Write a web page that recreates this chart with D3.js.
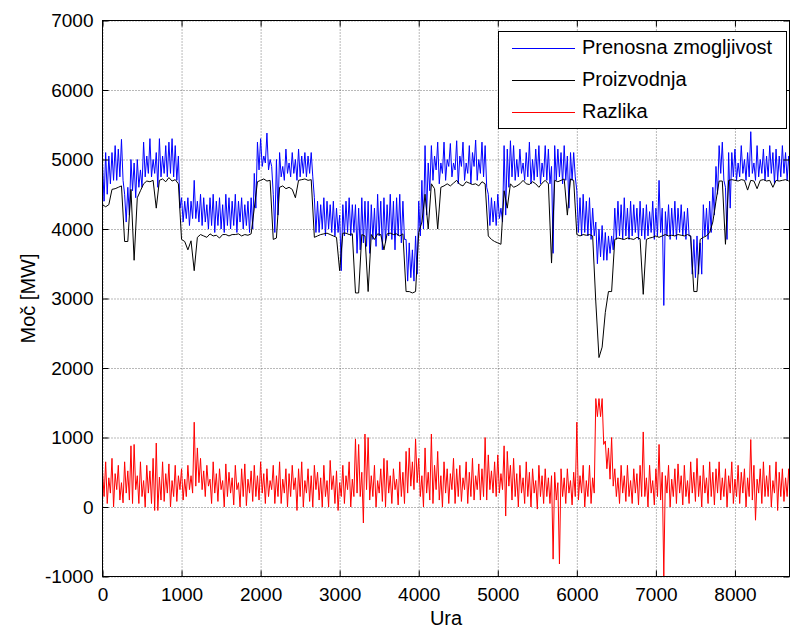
<!DOCTYPE html>
<html>
<head>
<meta charset="utf-8">
<script src="https://cdn.jsdelivr.net/npm/d3@7"></script>
<style>
  body { margin: 0; background: #fff; }
  svg { display: block; font-family: "Liberation Sans", Arial, sans-serif; }
  .axis path { display: none; }
  .axis line { stroke: #000; }
  .axis text { font-size: 19px; fill: #000; }
  .grid line { stroke: #000; stroke-opacity: 0.55; stroke-dasharray: 1,2; }
  .grid path { display: none; }
</style>
</head>
<body>
<svg id="chart" width="791" height="630"></svg>
<script>
// samples in 40 h bins.
// the hourly lines are so dense that each bin is kept as its high and low value
var hours = d3.range(0, 8681, 40);

var prenosnaHi = [
  4950,5100,5050,5100,5200,5150,5290,4500,4600,5000,
  4950,5000,4850,5250,5050,5300,5000,5100,5300,5050,
  5200,5250,5300,5200,5050,4450,4400,4450,4400,4700,
  4400,4500,4450,4350,4450,4500,4400,4450,4350,4500,
  4450,4400,4500,4400,4450,4350,4400,4450,4800,5250,
  5300,5050,5380,5000,4500,5000,5100,4900,5150,4950,
  5100,5000,5150,5050,5100,5050,5100,4450,4400,4350,
  4450,4400,4350,4400,4300,4200,4350,4400,4450,4350,
  4350,4300,4450,4400,4400,4350,4300,4500,4400,4450,
  4350,4500,4400,4450,4500,4400,3850,3800,3700,3900,
  4400,4700,5200,4950,5200,5050,5250,4950,5250,5000,
  5230,4950,5270,5050,5250,4950,5200,5100,5280,5000,
  5250,5200,4500,4450,4400,4500,4300,5200,5150,5270,
  5200,5000,5150,4950,5100,5250,5000,5150,5200,4950,
  5200,5150,4900,5200,5150,5100,5200,5050,5100,5100,
  4550,4450,4500,4400,4450,4300,4100,4000,4050,3950,
  3900,3900,4300,4400,4350,4450,4300,4400,4350,4300,
  4400,4300,4350,4250,4400,4300,4700,4300,4250,4350,
  4300,4400,4300,4350,4250,4300,3900,3850,3900,3800,
  4350,4300,4400,4600,4900,5200,5250,4600,5100,5100,
  5150,4950,5200,5000,5100,5400,4950,5200,5000,5150,
  5050,5200,5100,5150,5050,5200,5100,5050
];

var prenosnaLo = [
  4400,4500,4650,4700,4700,4750,4700,4100,4200,4550,
  4450,4600,4600,4750,4800,4750,4800,4600,4750,4800,
  4750,4800,4750,4700,4300,4100,4150,4050,4150,4150,
  4100,4050,4100,4000,4050,3950,4050,4000,3950,4050,
  4000,4050,3950,4100,4000,4050,3950,4000,4300,4850,
  4900,4950,4850,4900,3950,4200,4750,4700,4800,4750,
  4800,4700,4750,4800,4750,4800,4750,3950,3950,4000,
  3900,4000,3950,3900,3950,3400,3900,3950,3900,3950,
  3650,3700,3800,3750,3650,3850,3750,3900,3700,3800,
  3900,3850,3700,3900,3800,3850,3250,3300,3250,3350,
  3900,4000,4200,4550,4700,4850,4650,4800,4700,4900,
  4750,4850,4650,4900,4700,4800,4650,4900,4700,4800,
  4750,4600,4050,4100,4050,4150,4100,4200,4600,4750,
  4700,4750,4800,4700,4750,4650,4700,4750,4650,4750,
  4700,4650,3650,4700,4750,4650,4700,4300,4700,4750,
  3950,3900,3950,3900,3850,3900,3500,3600,3550,3550,
  3650,3700,3850,3900,3850,3900,3850,3900,3950,3850,
  3900,3850,3900,3950,3850,3900,3950,2900,3900,3850,
  3900,3850,3950,3900,3850,3900,3350,3300,3350,3350,
  3900,3850,3950,4200,4500,4800,4700,3850,4300,4750,
  4700,4750,4800,4700,4750,4800,4700,4750,4800,4700,
  4750,4800,4650,4700,4750,4800,4700,4750
];

var proizvodnja = [
  4350,4320,4350,4570,4580,4600,4620,3820,3820,4570,
  3550,4450,4550,4650,4690,4680,4700,4300,4700,4720,
  4680,4740,4690,4710,4650,3850,3820,3700,3830,3400,
  3880,3920,3900,3880,3930,3900,3910,3870,3920,3920,
  3900,3920,3920,3930,3900,3920,3910,3930,4300,4680,
  4700,4720,4690,4700,3850,3870,4600,4620,4580,4600,
  4570,4450,4700,4710,4720,4700,4710,3880,3900,3920,
  3930,3940,3920,3900,3880,3400,3940,3940,3920,3930,
  3080,3080,3920,3900,3100,3920,3850,3930,3920,3700,
  3930,3940,3920,3930,3900,3930,3100,3100,3080,3100,
  3950,4100,4500,4000,4650,4580,4000,4600,4620,4650,
  4620,4660,4700,4640,4620,4680,4660,4640,4650,4620,
  4680,4650,3900,3850,3820,3800,3780,4550,4300,4650,
  4600,4620,4650,4700,4650,4640,4680,4650,4600,4660,
  4700,4650,3510,4700,4680,4700,4720,4200,4720,4700,
  3920,3900,3920,3910,3920,3900,2950,2150,2300,2800,
  3100,3100,3850,3870,3860,3850,3870,3860,3850,3880,
  3860,3060,3850,3870,3880,3900,3880,3900,3920,3900,
  3910,3900,3920,3910,3900,3920,3900,3100,3100,3850,
  3880,3900,3950,4100,4400,4690,4690,3780,4700,4710,
  4700,4690,4710,4700,4560,4700,4690,4580,4700,4710,
  4690,4700,4600,4700,4690,4700,4710,4690
];

var razlikaHi = [
  520,650,420,700,480,600,350,650,520,880,
  900,450,650,380,600,520,700,920,430,650,
  480,620,380,600,450,550,400,600,450,1220,
  850,700,520,600,400,650,480,550,380,620,
  500,420,600,350,550,620,400,520,600,450,
  650,480,550,380,600,450,650,400,550,480,
  600,420,550,650,380,550,450,600,500,420,
  600,380,670,450,520,350,600,450,650,400,
  980,900,500,1050,1000,450,600,380,550,700,
  670,450,550,400,650,500,800,850,650,980,
  700,450,850,500,1050,600,800,450,650,550,
  480,700,550,600,420,650,500,700,450,620,
  550,1000,750,520,650,750,480,880,800,600,
  700,480,600,420,650,500,550,380,600,450,
  550,420,450,500,350,550,420,550,380,500,
  1220,450,600,380,600,420,1560,1560,1560,950,
  850,1000,550,420,600,450,600,380,550,480,
  600,1080,420,600,380,550,900,500,450,600,
  400,550,620,450,600,380,650,500,700,450,
  600,420,650,500,550,650,420,550,450,650,
  400,600,500,550,420,970,600,400,550,650,
  450,600,380,650,500,550,420,550
];

var razlikaLo = [
  150,50,200,0,250,100,60,200,100,50,
  250,50,150,0,200,50,-50,-50,100,80,
  200,0,150,80,250,100,150,250,200,300,
  350,250,150,300,50,200,80,250,0,150,
  200,30,250,0,150,20,200,80,150,100,
  200,50,150,250,50,150,50,200,0,150,
  250,-50,150,0,200,80,0,250,100,0,
  150,0,250,50,-50,150,50,250,0,150,
  200,150,-230,250,100,150,0,200,80,0,
  200,50,250,30,150,50,200,300,250,350,
  150,0,200,100,50,250,100,0,200,50,
  250,50,150,80,250,50,150,100,250,100,
  150,100,250,200,150,200,250,-130,300,100,
  150,0,200,50,150,0,200,-30,150,50,
  150,50,-750,100,-820,150,50,200,30,150,
  100,200,0,150,50,200,1300,1300,900,550,
  400,300,150,50,200,80,150,50,200,30,
  150,150,0,200,30,150,100,-1000,200,0,
  150,50,200,30,150,50,200,80,150,0,
  200,50,150,30,200,100,150,0,200,50,
  150,50,200,0,150,100,-190,200,50,150,
  150,0,200,-50,150,80,150,50
];

var xTicks = [0, 1000, 2000, 3000, 4000, 5000, 6000, 7000, 8000];
var yTicks = [-1000, 0, 1000, 2000, 3000, 4000, 5000, 6000, 7000];

// each bin drawn as high then low, half a bin apart
function envelope(hi, lo) {
  var pts = [];
  hours.forEach(function(h, i) {
    pts.push([h, hi[i]]);
    pts.push([h + 20, lo[i]]);
  });
  return pts;
}

var series = [
  { name: "Prenosna zmogljivost", color: "#0000ff", points: envelope(prenosnaHi, prenosnaLo) },
  { name: "Proizvodnja", color: "#000000", points: hours.map(function(h, i) { return [h, proizvodnja[i]]; }) },
  { name: "Razlika", color: "#ff0000", points: envelope(razlikaHi, razlikaLo) }
];

// note: "top" is taken by window.top, so the box edges get their own names
var plotL = 102.5, plotR = 789.5, plotT = 20.5, plotB = 576.5;

var x = d3.scaleLinear().domain([0, 8690]).range([plotL, plotR]);
var y = d3.scaleLinear().domain([-1000, 7000]).range([plotB, plotT]);

var svg = d3.select("#chart");

// dotted grid, matlab style
svg.append("g").attr("class", "grid")
  .attr("transform", "translate(0," + plotB + ")")
  .call(d3.axisBottom(x).tickValues(xTicks).tickSize(-(plotB - plotT)).tickFormat(""));
svg.append("g").attr("class", "grid")
  .attr("transform", "translate(" + plotL + ",0)")
  .call(d3.axisLeft(y).tickValues(yTicks).tickSize(-(plotR - plotL)).tickFormat(""));

svg.append("defs").append("clipPath").attr("id", "plotclip")
  .append("rect").attr("x", plotL).attr("y", plotT)
  .attr("width", plotR - plotL).attr("height", plotB - plotT);

var line = d3.line()
  .x(function(d) { return x(d[0]); })
  .y(function(d) { return y(d[1]); });

svg.append("g").attr("clip-path", "url(#plotclip)")
  .selectAll("path")
  .data(series)
  .enter().append("path")
  .attr("fill", "none")
  .attr("stroke", function(d) { return d.color; })
  .attr("stroke-width", 1)
  .attr("d", function(d) { return line(d.points); });

// plain hyphen for negatives, like the original
var plain = function(d) { return String(d); };

// axes, ticks point inward on all four sides
svg.append("g").attr("class", "axis")
  .attr("transform", "translate(0," + plotB + ")")
  .call(d3.axisBottom(x).tickValues(xTicks).tickSize(-6).tickPadding(11).tickFormat(plain));
svg.append("g").attr("class", "axis")
  .attr("transform", "translate(0," + plotT + ")")
  .call(d3.axisTop(x).tickValues(xTicks).tickSize(-6).tickFormat(""));
svg.append("g").attr("class", "axis")
  .attr("transform", "translate(" + plotL + ",0)")
  .call(d3.axisLeft(y).tickValues(yTicks).tickSize(-6).tickPadding(9).tickFormat(plain));
svg.append("g").attr("class", "axis")
  .attr("transform", "translate(" + plotR + ",0)")
  .call(d3.axisRight(y).tickValues(yTicks).tickSize(-6).tickFormat(""));

svg.append("rect")
  .attr("x", plotL).attr("y", plotT)
  .attr("width", plotR - plotL).attr("height", plotB - plotT)
  .attr("fill", "none").attr("stroke", "#000").attr("stroke-width", 1);

svg.append("text")
  .attr("x", 446).attr("y", 620)
  .attr("text-anchor", "middle").attr("dominant-baseline", "middle")
  .attr("font-size", 20)
  .text("Ura");

svg.append("text")
  .attr("transform", "translate(30," + ((plotT + plotB) / 2) + ") rotate(-90)")
  .attr("text-anchor", "middle").attr("dominant-baseline", "middle")
  .attr("font-size", 20)
  .text("Moč [MW]");

// legend
var legend = svg.append("g");
legend.append("rect")
  .attr("x", 498.5).attr("y", 31.5).attr("width", 288).attr("height", 97)
  .attr("fill", "#fff").attr("stroke", "#000").attr("stroke-width", 1);

var item = legend.selectAll(".item")
  .data(series)
  .enter().append("g")
  .attr("class", "item")
  .attr("transform", function(d, i) { return "translate(0," + (48.5 + i * 32) + ")"; });
item.append("line")
  .attr("x1", 512).attr("x2", 575)
  .attr("stroke", function(d) { return d.color; });
item.append("text")
  .attr("x", 582).attr("dominant-baseline", "middle")
  .attr("font-size", 20)
  .text(function(d) { return d.name; });
</script>
</body>
</html>
